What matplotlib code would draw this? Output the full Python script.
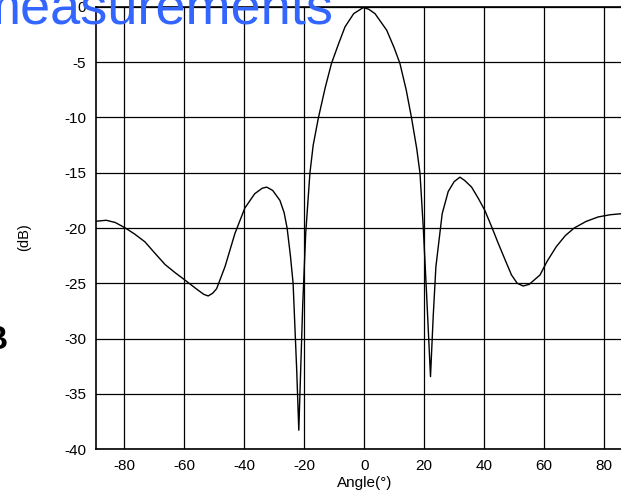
import matplotlib
matplotlib.use("Agg")
import matplotlib.pyplot as plt

plt.rcParams['font.family'] = ['Liberation Sans', 'DejaVu Sans']
plt.rcParams['axes.unicode_minus'] = False

# Radiation pattern: angle (degrees) and normalised level (dB)
angle_deg = [-89.8, -86.0, -83.0, -79.8, -76.5, -73.1, -69.7, -66.4, -63.0, -59.8,
             -56.0, -53.5, -52.0, -50.5, -49.2, -46.4, -43.1, -39.8, -36.5, -34.0,
             -32.5, -30.5, -28.1, -26.7, -25.7, -24.6, -23.7, -22.5, -21.8, -20.5,
             -19.5, -18.1, -17.0, -15.3, -13.0, -10.9, -8.5, -6.4, -3.5, -0.3,
             1.5, 3.6, 7.5, 10.0, 11.9, 14.0, 15.8, 17.5, 18.6, 19.7,
             20.8, 22.1, 23.0, 23.9, 26.0, 28.0, 30.0, 31.9, 33.5, 35.8,
             38.0, 40.2, 42.5, 44.7, 47.0, 49.1, 51.0, 53.0, 55.0, 58.6,
             61.0, 64.0, 67.0, 70.0, 74.0, 78.0, 82.0, 86.0, 89.0]
level_db = [-19.4, -19.3, -19.5, -19.97, -20.55, -21.25, -22.3, -23.3, -24.05, -24.7,
            -25.5, -26.0, -26.15, -25.9, -25.5, -23.5, -20.5, -18.2, -16.9, -16.4,
            -16.3, -16.6, -17.5, -18.6, -20.0, -22.5, -25.0, -32.85, -38.3, -27.0,
            -20.5, -15.05, -12.5, -10.07, -7.3, -5.1, -3.3, -1.8, -0.6, -0.05,
            -0.2, -0.6, -2.1, -3.7, -5.1, -7.5, -10.07, -12.8, -15.05, -20.0,
            -26.0, -33.45, -28.0, -23.5, -18.7, -16.7, -15.8, -15.4, -15.7, -16.3,
            -17.3, -18.4, -19.9, -21.4, -22.9, -24.25, -25.0, -25.25, -25.1, -24.25,
            -23.0, -21.7, -20.7, -20.0, -19.4, -19.0, -18.8, -18.7, -18.7]

x_ticks = [-80, -60, -40, -20, 0, 20, 40, 60, 80]
y_ticks = [-40, -35, -30, -25, -20, -15, -10, -5, 0]

W, H = 621, 494
fig = plt.figure(figsize=(W / 100, H / 100), dpi=100)

x_min, x_max = -89.4, 89.4
left_px, bottom_px, top_px = 96, 449, 7
px_per_deg = 3.0
ax = fig.add_axes([left_px / W, (H - bottom_px) / H,
                   (x_max - x_min) * px_per_deg / W, (bottom_px - top_px) / H])

ax.plot(angle_deg, level_db, color='black', lw=1.0, zorder=3)

ax.set_xlim(x_min, x_max)
ax.set_ylim(-40, 0)
ax.set_xticks(x_ticks)
ax.set_yticks(y_ticks)
ax.grid(True, color='black', lw=0.9)
ax.set_axisbelow(True)
ax.tick_params(length=0, labelsize=11, pad=7)
for side in ('left', 'bottom', 'top'):
    ax.spines[side].set_color('black')
    ax.spines[side].set_linewidth(1.2)
ax.spines['right'].set_visible(False)

ax.set_xlabel('Angle(°)', fontsize=11, labelpad=2)

fig.text(24.5 / W, 1 - 237 / H, '(dB)', rotation=90, fontsize=10.5,
         ha='center', va='center')
fig.text(8 / W, 1 - 349 / H, 'B', fontsize=24, fontweight='bold',
         ha='right', va='baseline')
fig.text(-25 / W, 1 - 24 / H, 'measurements', fontsize=39, color='#3366ff',
         ha='left', va='baseline', zorder=10)

fig.savefig('out.png', dpi=100)
